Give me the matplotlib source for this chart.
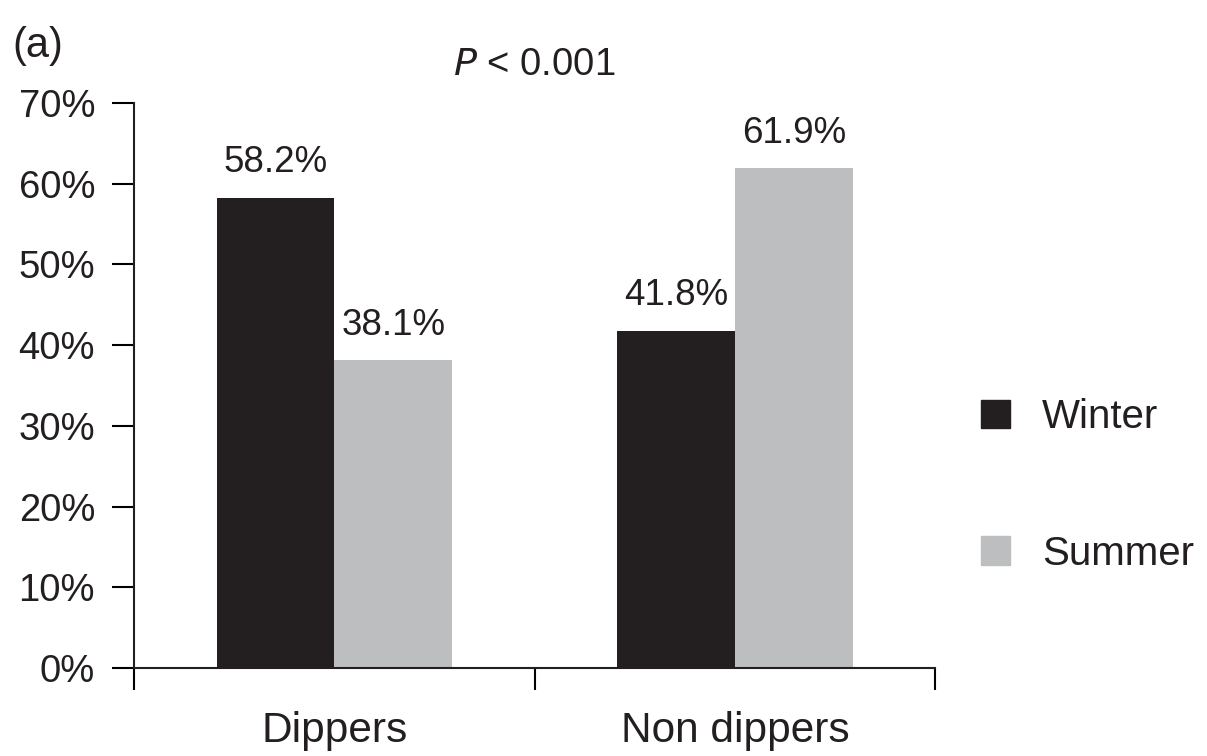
import numpy as np
import matplotlib
matplotlib.use("Agg")
import matplotlib.pyplot as plt
from matplotlib.patches import Patch

categories = ["Dippers", "Non dippers"]
seasons = ["Winter", "Summer"]
winter = [58.2, 41.8]
summer = [38.1, 61.9]
colors = ["#231f20", "#bcbec0"]

plt.rcParams["font.family"] = ["Liberation Sans", "DejaVu Sans"]

fig = plt.figure(figsize=(12.07, 7.56), dpi=100)
ax = fig.add_axes([0.111, 0.1164, 0.664, 0.7474])

x = np.arange(len(categories))
w = 0.294
b1 = ax.bar(x - w / 2, winter, w, color=colors[0])
b2 = ax.bar(x + w / 2, summer, w, color=colors[1])

for bars, vals in [(b1, winter), (b2, summer)]:
    for r, v in zip(bars, vals):
        ax.text(r.get_x() + r.get_width() / 2, v + 2.2, "%.1f%%" % v,
                ha="center", va="bottom", fontsize=26.5, color="#231f20")

ax.set_ylim(0, 70)
ax.set_xlim(-0.5, 1.5)
ax.set_yticks(range(0, 71, 10))
ax.set_yticklabels(["%d%%" % t for t in range(0, 71, 10)])
ax.set_xticks([-0.5, 0.5, 1.5])
ax.set_xticklabels([])
ax.set_xticks(x, minor=True)
ax.set_xticklabels(categories, minor=True)
ax.tick_params(axis="x", which="minor", length=0, pad=31, labelsize=30.5)
ax.tick_params(axis="x", which="major", length=16, width=1.5, direction="out")
ax.tick_params(axis="y", length=16, width=1.5, labelsize=27.5, pad=12)
for lab in ax.get_xticklabels(minor=True) + ax.get_yticklabels():
    lab.set_color("#231f20")

ax.spines["top"].set_visible(False)
ax.spines["right"].set_visible(False)
for s in ["left", "bottom"]:
    ax.spines[s].set_linewidth(1.5)
    ax.spines[s].set_color("#231f20")

ax.text(0.5, 1.035, "$\\mathit{P}$ < 0.001", transform=ax.transAxes,
        ha="center", va="bottom", fontsize=27.5, color="#231f20")
fig.text(0.01, 0.925, "(a)", fontsize=30, color="#231f20")

handles = [Patch(color=c) for c in colors]
fig.legend(handles, seasons, loc="center left", bbox_to_anchor=(0.783, 0.358),
           frameon=False, fontsize=29, handlelength=0.7, handleheight=0.7,
           labelspacing=2.45, handletextpad=0.8, labelcolor="#231f20")

fig.savefig("out.png", dpi=100)
